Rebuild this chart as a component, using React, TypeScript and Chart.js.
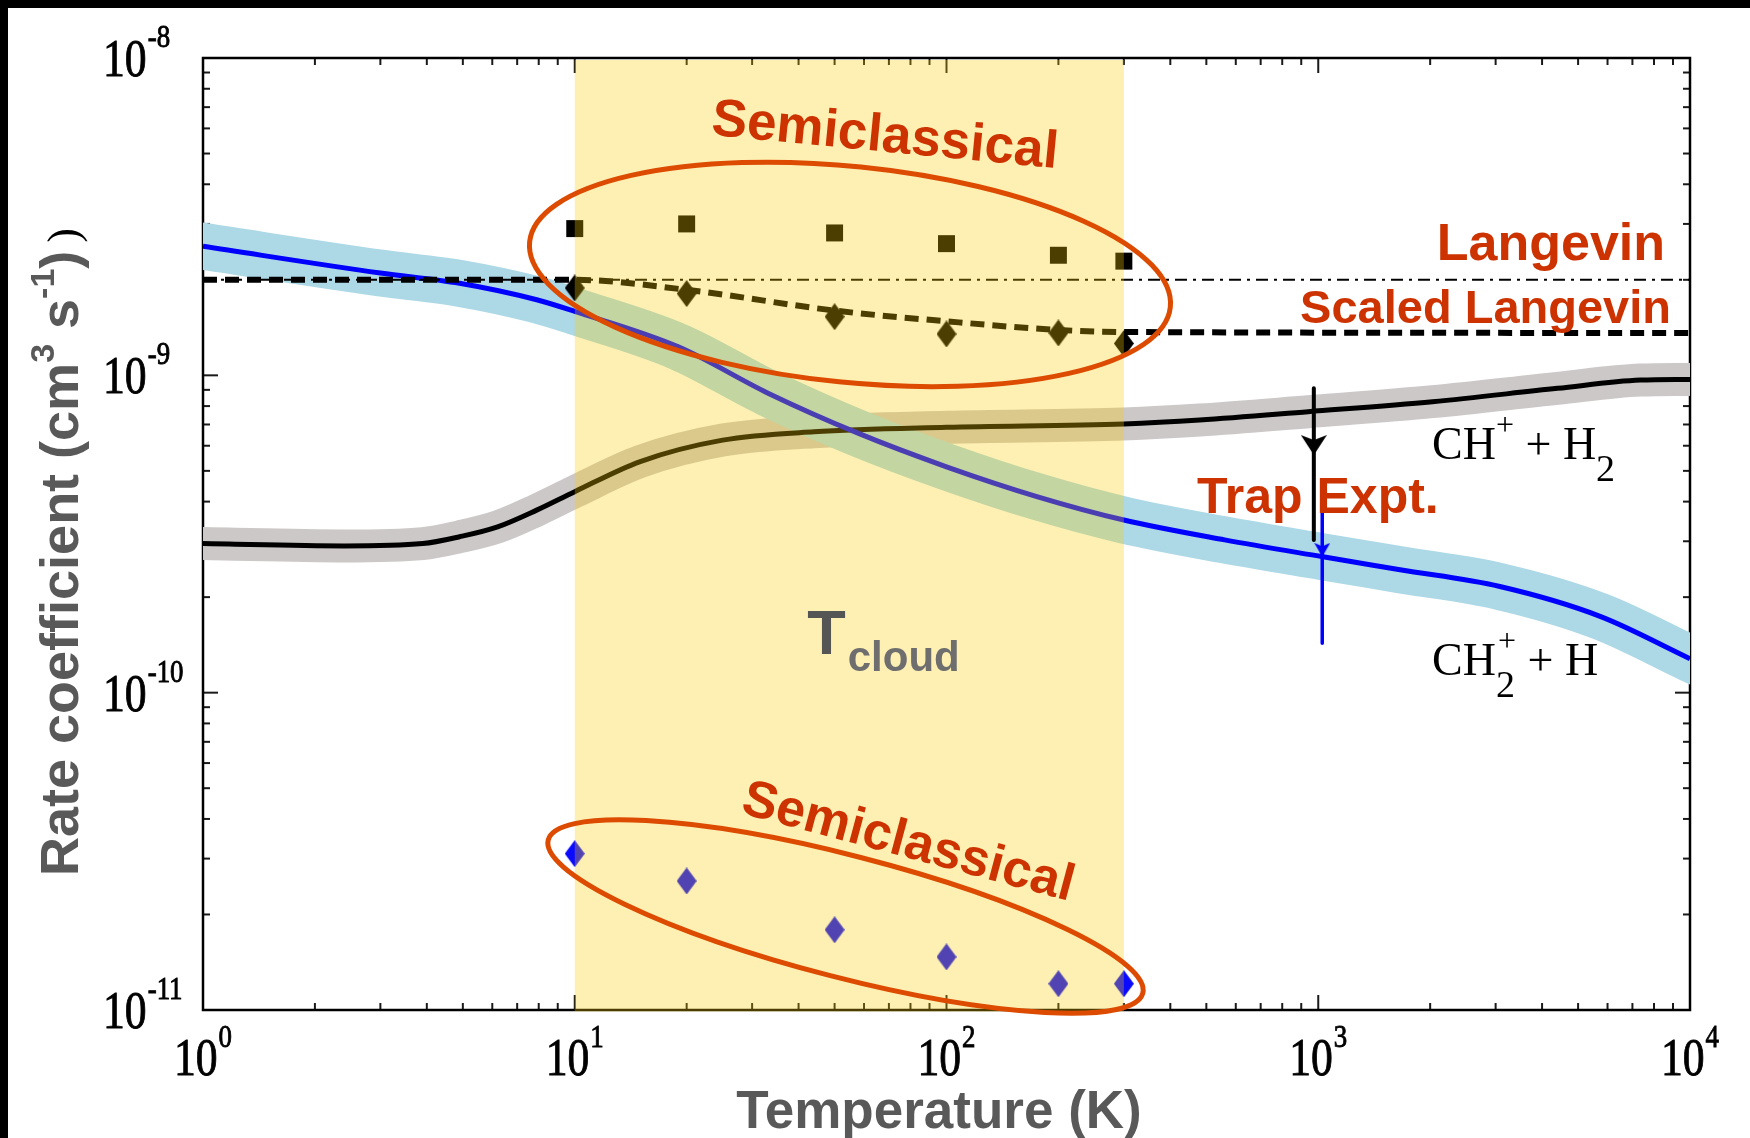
import React, { useEffect, useRef } from "react";
import { Chart, registerables } from "chart.js";

Chart.register(...registerables);

// ---------- data (temperature in K, rate coefficient in cm^3 s^-1) ----------
const chPlusH2Temps = [1, 2.4, 3.9, 4.9, 6.2, 7.9, 10, 15, 25, 44, 100, 300, 480, 940, 2030, 4400, 7350, 10000];
const chPlusH2Rates = [2.95e-10, 2.9e-10, 2.95e-10, 3.1e-10, 3.33e-10, 3.76e-10, 4.3e-10, 5.35e-10, 6.25e-10, 6.64e-10, 6.86e-10, 7.03e-10, 7.23e-10, 7.68e-10, 8.26e-10, 9.1e-10, 9.66e-10, 9.71e-10];

const ch2PlusHTemps = [1, 3, 4.9, 7.9, 10, 19, 33, 58, 100, 175, 300, 560, 1030, 1660, 3080, 5730, 10000];
const ch2PlusHRates = [2.55e-9, 2.1e-9, 1.95e-9, 1.73e-9, 1.59e-9, 1.23e-9, 8.8e-10, 6.56e-10, 5.15e-10, 4.15e-10, 3.5e-10, 3.03e-10, 2.68e-10, 2.44e-10, 2.16e-10, 1.74e-10, 1.28e-10];

const langevinTemps = [1, 10000];
const langevinRates = [2.0e-9, 2.0e-9];

const scaledLangevinTemps = [1, 10, 20, 50, 100, 200, 300, 10000];
const scaledLangevinRates = [2.0e-9, 2.0e-9, 1.86e-9, 1.6e-9, 1.48e-9, 1.39e-9, 1.37e-9, 1.36e-9];

const semiTemps = [10, 20, 50, 100, 200, 300];
const semiSquareRates = [2.9e-9, 3.0e-9, 2.81e-9, 2.6e-9, 2.39e-9, 2.29e-9];
const semiDiamondRates = [1.885e-9, 1.81e-9, 1.53e-9, 1.35e-9, 1.36e-9, 1.26e-9];
const semiCh2Rates = [3.11e-11, 2.55e-11, 1.79e-11, 1.47e-11, 1.21e-11, 1.21e-11];

// trap experiment arrows: [CH+ + H2, CH2+ + H]
const trapTemps = [973, 1025];
const trapTopRates = [9.1e-10, 4.25e-10];
const trapBottomRates = [3.03e-10, 1.43e-10];
const trapHeadRates = [6.03e-10, 2.82e-10];

const cloudRange = [10, 300];

const xTickValues = [1, 10, 100, 1000, 10000];
const xTickExponents = ["0", "1", "2", "3", "4"];
const yTickValues = [1e-11, 1e-10, 1e-9, 1e-8];
const yTickExponents = ["-11", "-10", "-9", "-8"];

// ---------- styling / annotation anchors ----------
const SANS = "'Liberation Sans', Arial, sans-serif";
const SERIF = "'Liberation Serif', 'Times New Roman', serif";
const RED = "#CC3300";
const ELLIPSE = "#DC4B00";

const upperEllipse = { x: 55.0, y: 2.08e-9, a: 322, b: 108, rot: 5.8 };
const lowerEllipse = { x: 53.5, y: 1.97e-11, a: 307, b: 61, rot: 14.45 };

const pts = (xs: number[], ys: number[]) => xs.map((x, i) => ({ x, y: ys[i] }));

function makeDiamond(color: string, w: number, h: number) {
  const c = document.createElement("canvas");
  c.width = w;
  c.height = h;
  const g = c.getContext("2d")!;
  g.fillStyle = color;
  g.beginPath();
  g.moveTo(w / 2, 0);
  g.lineTo(w, h / 2);
  g.lineTo(w / 2, h);
  g.lineTo(0, h / 2);
  g.closePath();
  g.fill();
  return c;
}

function makeArrowHead(color: string, w: number, h: number) {
  const c = document.createElement("canvas");
  c.width = w;
  c.height = h;
  const g = c.getContext("2d")!;
  g.fillStyle = color;
  g.beginPath();
  g.moveTo(0, 0);
  g.lineTo(w / 2, h * 0.25);
  g.lineTo(w, 0);
  g.lineTo(w / 2, h);
  g.closePath();
  g.fill();
  return c;
}

function drawPower(ctx: CanvasRenderingContext2D, exp: string, x: number, baseY: number, center: boolean, raise: number) {
  const sx = 0.84;
  const mainFont = `52px ${SERIF}`;
  const expFont = `32px ${SERIF}`;
  ctx.font = mainFont;
  const w1 = ctx.measureText("10").width * sx;
  ctx.font = expFont;
  const w2 = ctx.measureText(exp).width * sx;
  const total = w1 + w2 + 1;
  const x0 = center ? x - total / 2 : x;
  ctx.lineWidth = 0.9;
  ctx.strokeStyle = "#000";
  ctx.save();
  ctx.translate(x0, baseY);
  ctx.scale(sx, 1);
  ctx.font = mainFont;
  ctx.fillText("10", 0, 0);
  ctx.strokeText("10", 0, 0);
  ctx.restore();
  ctx.save();
  ctx.translate(x0 + w1 + 1, baseY - raise);
  ctx.scale(sx, 1);
  ctx.font = expFont;
  ctx.fillText(exp, 0, 0);
  ctx.strokeText(exp, 0, 0);
  ctx.restore();
}

type Seg = { t: string; font: string; dy?: number; color?: string };
function drawSegs(ctx: CanvasRenderingContext2D, segs: Seg[], x: number, y: number) {
  let cx = x;
  for (const s of segs) {
    ctx.font = s.font;
    if (s.color) ctx.fillStyle = s.color;
    ctx.fillText(s.t, cx, y + (s.dy || 0));
    cx += ctx.measureText(s.t).width;
  }
  return cx;
}

const decorPlugin = {
  id: "decor",
  beforeDatasetsDraw(chart: any) {
    const { ctx, chartArea: a } = chart;
    const xs = chart.scales.x;
    const ys = chart.scales.y;
    ctx.save();
    ctx.strokeStyle = "#1a1a1a";
    ctx.lineWidth = 2;
    const seg = (x1: number, y1: number, x2: number, y2: number) => {
      ctx.beginPath();
      ctx.moveTo(x1, y1);
      ctx.lineTo(x2, y2);
      ctx.stroke();
    };
    for (let d = 0; d < 4; d++) {
      for (let m = 1; m <= 9; m++) {
        const px = xs.getPixelForValue(m * Math.pow(10, d));
        const len = m === 1 ? 15 : 7;
        seg(px, a.bottom, px, a.bottom - len);
        seg(px, a.top, px, a.top + len);
      }
    }
    for (let d = -11; d < -8; d++) {
      for (let m = 1; m <= 9; m++) {
        const py = ys.getPixelForValue(m * Math.pow(10, d));
        const len = m === 1 ? 15 : 7;
        seg(a.left, py, a.left + len, py);
        seg(a.right, py, a.right - len, py);
      }
    }
    ctx.lineWidth = 2.5;
    ctx.strokeStyle = "#000";
    ctx.strokeRect(a.left, a.top, a.right - a.left, a.bottom - a.top);

    // tick labels
    ctx.fillStyle = "#000";
    ctx.textAlign = "left";
    ctx.textBaseline = "alphabetic";
    xTickValues.forEach((v, i) => {
      drawPower(ctx, xTickExponents[i], xs.getPixelForValue(v), a.bottom + 65, true, 28);
    });
    yTickValues.forEach((v, i) => {
      drawPower(ctx, yTickExponents[i], 103, ys.getPixelForValue(v) + 18, false, 29);
    });

    // axis titles
    ctx.fillStyle = "#595959";
    ctx.font = `bold 53px ${SANS}`;
    ctx.textAlign = "center";
    ctx.fillText("Temperature (K)", 939, 1128);
    ctx.textAlign = "left";
    ctx.save();
    ctx.translate(78, 876);
    ctx.rotate(-Math.PI / 2);
    const end = drawSegs(
      ctx,
      [
        { t: "Rate coefficient (cm", font: `bold 54px ${SANS}` },
        { t: "3", font: `bold 34px ${SANS}`, dy: -24 },
        { t: " s", font: `bold 54px ${SANS}` },
        { t: "-1", font: `bold 34px ${SANS}`, dy: -24 },
        { t: ")", font: `bold 54px ${SANS}` },
      ],
      0,
      0
    );
    ctx.fillStyle = "#000";
    ctx.font = `44px ${SERIF}`;
    ctx.fillText(")", end + 8, 0);
    ctx.restore();
    ctx.restore();
  },
  afterDatasetsDraw(chart: any) {
    const { ctx, chartArea: a } = chart;
    const xs = chart.scales.x;
    const ys = chart.scales.y;
    const X = (v: number) => xs.getPixelForValue(v);
    const Y = (v: number) => ys.getPixelForValue(v);
    ctx.save();
    // T_cloud band (translucent yellow overlay)
    const x1 = X(cloudRange[0]);
    const x2 = X(cloudRange[1]);
    ctx.fillStyle = "rgba(247,205,0,0.3)";
    ctx.fillRect(x1, a.top + 2, x2 - x1, a.bottom - a.top - 0.5);

    // ellipses
    ctx.strokeStyle = ELLIPSE;
    ctx.lineWidth = 5;
    for (const e of [upperEllipse, lowerEllipse]) {
      ctx.beginPath();
      ctx.ellipse(X(e.x), Y(e.y), e.a, e.b, (e.rot * Math.PI) / 180, 0, Math.PI * 2);
      ctx.stroke();
    }

    // red labels
    ctx.fillStyle = RED;
    ctx.textBaseline = "middle";
    ctx.textAlign = "center";
    ctx.font = `bold 53px ${SANS}`;
    ctx.save();
    ctx.translate(X(68.3), Y(5.64e-9));
    ctx.rotate((5.5 * Math.PI) / 180);
    ctx.fillText("Semiclassical", 0, 0);
    ctx.restore();
    ctx.save();
    ctx.translate(X(78.8), Y(3.36e-11));
    ctx.rotate((15 * Math.PI) / 180);
    ctx.font = `bold 52px ${SANS}`;
    ctx.fillText("Semiclassical", 0, 0);
    ctx.restore();

    ctx.textBaseline = "alphabetic";
    ctx.textAlign = "right";
    ctx.font = `bold 52px ${SANS}`;
    ctx.fillText("Langevin", X(8566), Y(2.31e-9));
    ctx.font = `bold 47px ${SANS}`;
    ctx.fillText("Scaled Langevin", X(8890), Y(1.462e-9));
    ctx.textAlign = "left";
    ctx.font = `bold 50px ${SANS}`;
    ctx.fillText("Trap Expt.", X(472), Y(3.68e-10));

    // reaction labels
    ctx.fillStyle = "#000";
    const main = `46px ${SERIF}`;
    const small = `38px ${SERIF}`;
    const sup = `32px ${SERIF}`;
    const lx = X(2023);
    let ly = Y(5.45e-10);
    drawSegs(
      ctx,
      [
        { t: "CH", font: main },
        { t: "+", font: sup, dy: -24 },
        { t: " + H", font: main },
        { t: "2", font: small, dy: 22 },
      ],
      lx,
      ly
    );
    ly = Y(1.137e-10);
    ctx.font = main;
    ctx.fillText("CH", lx, ly);
    let cx = lx + ctx.measureText("CH").width;
    ctx.font = small;
    ctx.fillText("2", cx, ly + 22);
    const w2 = ctx.measureText("2").width;
    ctx.font = sup;
    ctx.fillText("+", cx + 2, ly - 24);
    const wp = ctx.measureText("+").width;
    cx += Math.max(w2, wp + 2);
    ctx.font = main;
    ctx.fillText(" + H", cx, ly);

    // T_cloud
    ctx.fillStyle = "#555555";
    ctx.font = `bold 63px ${SANS}`;
    const tx = X(42.2);
    const ty = Y(1.323e-10);
    ctx.fillText("T", tx, ty);
    const tw = ctx.measureText("T").width;
    ctx.fillStyle = "#6E6E6E";
    ctx.font = `bold 42px ${SANS}`;
    ctx.fillText("cloud", tx + tw + 2, ty + 17);
    ctx.restore();
  },
};

export default function App() {
  const canvasRef = useRef<HTMLCanvasElement | null>(null);

  useEffect(() => {
    document.body.style.margin = "0";
    document.body.style.overflow = "hidden";
    const canvas = canvasRef.current;
    if (!canvas) return;

    const blackDiamond = makeDiamond("#000000", 20, 27);
    const blueDiamond = makeDiamond("#0A0AFF", 20, 27);
    const blackHead = makeArrowHead("#000000", 26, 20);
    const blueHead = makeArrowHead("#0000FF", 16, 14);

    const lineBase = {
      pointRadius: 0,
      pointHoverRadius: 0,
      fill: false,
      cubicInterpolationMode: "monotone" as const,
      borderJoinStyle: "round" as const,
      clip: 0,
    };

    const chart = new Chart(canvas, {
      type: "line",
      data: {
        datasets: [
          {
            ...lineBase,
            label: "Trap head",
            data: trapTemps.map((t, i) => ({ x: t, y: trapHeadRates[i] })),
            showLine: false,
            pointRadius: 10,
            pointStyle: [blackHead, blueHead] as any,
            order: 0,
            clip: false as any,
          },
          {
            ...lineBase,
            label: "Trap CH+",
            data: [
              { x: trapTemps[0], y: trapTopRates[0] },
              { x: trapTemps[0], y: trapBottomRates[0] },
            ],
            borderColor: "#000000",
            borderWidth: 4,
            cubicInterpolationMode: "default",
            order: 1,
          },
          {
            ...lineBase,
            label: "Trap CH2+",
            data: [
              { x: trapTemps[1], y: trapTopRates[1] },
              { x: trapTemps[1], y: trapBottomRates[1] },
            ],
            borderColor: "#0000FF",
            borderWidth: 3.5,
            cubicInterpolationMode: "default",
            order: 1,
          },
          {
            label: "Semiclassical squares",
            data: pts(semiTemps, semiSquareRates),
            showLine: false,
            pointStyle: "rect",
            pointRadius: 12,
            pointBackgroundColor: "#000000",
            pointBorderWidth: 0,
            order: 2,
          },
          {
            label: "Semiclassical diamonds",
            data: pts(semiTemps, semiDiamondRates),
            showLine: false,
            pointStyle: blackDiamond as any,
            pointRadius: 12,
            order: 2,
          },
          {
            label: "Semiclassical CH2+",
            data: pts(semiTemps, semiCh2Rates),
            showLine: false,
            pointStyle: blueDiamond as any,
            pointRadius: 12,
            order: 2,
          },
          {
            ...lineBase,
            label: "Scaled Langevin",
            data: pts(scaledLangevinTemps, scaledLangevinRates),
            borderColor: "#000000",
            borderWidth: 6,
            borderDash: [14, 8],
            order: 3,
          },
          {
            ...lineBase,
            label: "Langevin",
            data: pts(langevinTemps, langevinRates),
            borderColor: "#000000",
            borderWidth: 2,
            borderDash: [12, 6, 3, 6],
            cubicInterpolationMode: "default",
            order: 3,
          },
          {
            ...lineBase,
            label: "CH2+ + H",
            data: pts(ch2PlusHTemps, ch2PlusHRates),
            borderColor: "#0000FF",
            borderWidth: 5,
            order: 4,
          },
          {
            ...lineBase,
            label: "CH+ + H2",
            data: pts(chPlusH2Temps, chPlusH2Rates),
            borderColor: "#000000",
            borderWidth: 5,
            order: 5,
          },
          {
            ...lineBase,
            label: "CH2+ + H band",
            data: pts(ch2PlusHTemps, ch2PlusHRates),
            borderColor: "#ADD8E6",
            borderWidth: 47,
            borderCapStyle: "square",
            order: 6,
          },
          {
            ...lineBase,
            label: "CH+ + H2 band",
            data: pts(chPlusH2Temps, chPlusH2Rates),
            borderColor: "#CDC8C8",
            borderWidth: 33,
            borderCapStyle: "square",
            order: 7,
          },
        ],
      },
      options: {
        responsive: false,
        animation: false,
        devicePixelRatio: 1,
        events: [],
        layout: { padding: { left: 203, right: 60, top: 58, bottom: 128 } },
        plugins: { legend: { display: false }, tooltip: { enabled: false } },
        scales: {
          x: { type: "logarithmic", min: 1, max: 10000, display: false },
          y: { type: "logarithmic", min: 1e-11, max: 1e-8, display: false },
        },
      },
      plugins: [decorPlugin],
    } as any);

    return () => chart.destroy();
  }, []);

  return (
    <div style={{ position: "relative", width: 1750, height: 1138, background: "#fff", overflow: "hidden" }}>
      <canvas ref={canvasRef} width={1750} height={1138} style={{ display: "block" }} />
      <div style={{ position: "absolute", left: 0, top: 0, width: 1750, height: 8, background: "#000" }} />
      <div style={{ position: "absolute", left: 0, top: 0, width: 8, height: 1138, background: "#000" }} />
    </div>
  );
}
